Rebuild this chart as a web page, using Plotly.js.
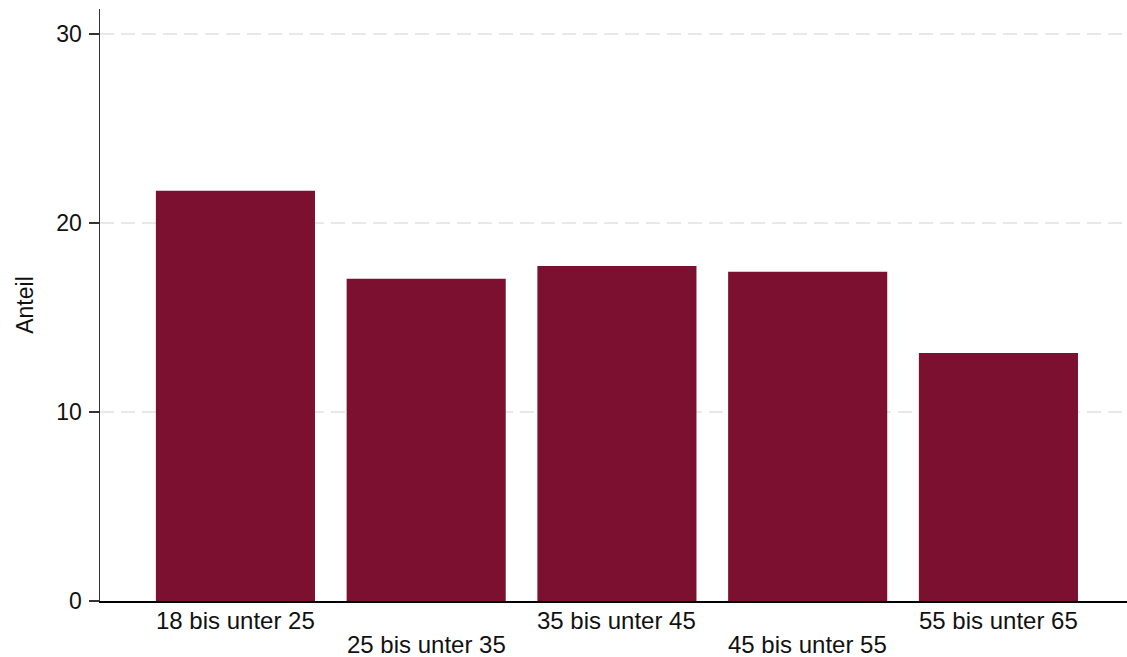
<!DOCTYPE html>
<html>
<head>
<meta charset="utf-8">
<script src="https://cdn.plot.ly/plotly-3.0.1.min.js"></script>
<style>html,body{margin:0;padding:0;background:#fff;}#chart{width:1127px;height:657px;}</style>
</head>
<body>
<div id="chart"></div>
<script>
const categories = ["18 bis unter 25", "25 bis unter 35", "35 bis unter 45", "45 bis unter 55", "55 bis unter 65"];
const anteil = [21.7, 17.05, 17.72, 17.42, 13.12];
const yTicks = [0, 10, 20, 30];

const FONT = "Liberation Sans, Arial, Helvetica, sans-serif";
const idx = categories.map((_, i) => i);

const trace = {
  type: "bar",
  x: idx,
  y: anteil,
  marker: { color: "#7b1030", line: { width: 0 } },
  hoverinfo: "x+y"
};

const annotations = categories.map((c, i) => ({
  x: i, y: 0, xref: "x", yref: "y",
  text: c, showarrow: false,
  xanchor: "center", yanchor: "top",
  yshift: i % 2 === 0 ? -5 : -29,
  borderpad: 0,
  font: { family: FONT, size: 24, color: "#111" }
}));

const layout = {
  width: 1127, height: 657,
  margin: { l: 100, r: 0, t: 9, b: 56, pad: 0 },
  paper_bgcolor: "#fff", plot_bgcolor: "#fff",
  font: { family: FONT, size: 23, color: "#111" },
  bargap: 0.166,
  showlegend: false,
  xaxis: {
    range: [-0.71, 4.674],
    tickvals: idx,
    showticklabels: false,
    ticks: "",
    showgrid: false,
    zeroline: false,
    showline: true, linecolor: "#000", linewidth: 1.5
  },
  yaxis: {
    range: [0, 31.32],
    tickvals: yTicks,
    ticktext: yTicks.map(String),
    ticks: "outside", ticklen: 10, tickwidth: 1.5, tickcolor: "#333",
    ticklabelstandoff: 2,
    showline: true, linecolor: "#333", linewidth: 1.5,
    showgrid: true, gridcolor: "#e8e8e8", gridwidth: 2, griddash: "14px,7px",
    zeroline: false,
    tickfont: { family: FONT, size: 23, color: "#111" },
    title: { text: "Anteil", font: { family: FONT, size: 23, color: "#111" }, standoff: 16 }
  },
  annotations: annotations
};

Plotly.newPlot("chart", [trace], layout, { displayModeBar: false, staticPlot: true });
</script>
</body>
</html>
